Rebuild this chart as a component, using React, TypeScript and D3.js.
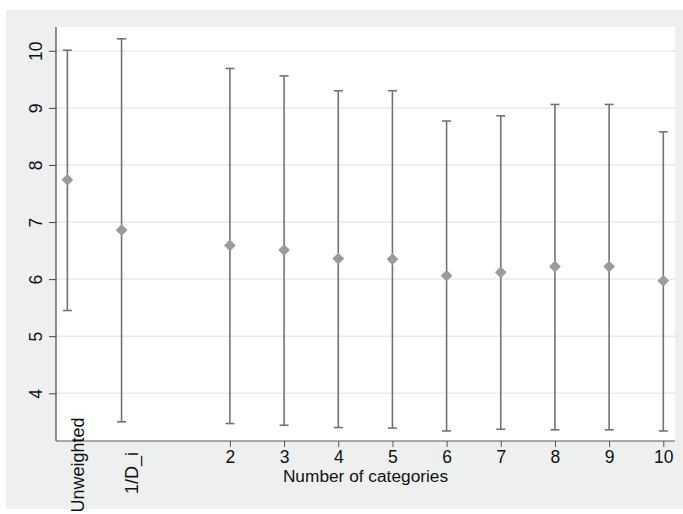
import React, { useEffect, useRef } from "react";
import * as d3 from "d3";

// Estimates (mean with lower/upper bounds) for each weighting scheme
const labels = ["Unweighted", "1/D_i", "2", "3", "4", "5", "6", "7", "8", "9", "10"];
const xValues = [-1, 0, 2, 3, 4, 5, 6, 7, 8, 9, 10];
const means = [7.74, 6.86, 6.59, 6.51, 6.36, 6.35, 6.06, 6.12, 6.22, 6.22, 5.97];
const upper = [10.01, 10.21, 9.69, 9.56, 9.3, 9.3, 8.77, 8.86, 9.06, 9.06, 8.58];
const lower = [5.45, 3.5, 3.47, 3.44, 3.4, 3.39, 3.34, 3.37, 3.36, 3.36, 3.34];
const yTicks = [4, 5, 6, 7, 8, 9, 10];
const numericTicks = [2, 3, 4, 5, 6, 7, 8, 9, 10];
const xTitle = "Number of categories";

const FONT = "'Liberation Sans', Arial, Helvetica, sans-serif";

const App = () => {
  const ref = useRef<SVGSVGElement | null>(null);

  useEffect(() => {
    const W = 683;
    const plot = { left: 56, right: 675, top: 27, bottom: 441 };
    // vertical centre of the rotated text labels (Stata places them unevenly)
    const textLabelY = [465, 473];

    const svg = d3.select(ref.current);
    svg.selectAll("*").remove();

    // outer background
    svg.append("rect").attr("x", 6).attr("y", 10).attr("width", W - 6).attr("height", 499).attr("fill", "#eef0f0");
    svg
      .append("rect")
      .attr("x", plot.left)
      .attr("y", plot.top)
      .attr("width", plot.right - plot.left)
      .attr("height", plot.bottom - plot.top)
      .attr("fill", "#ffffff");

    const x = d3.scaleLinear().domain([-1.21, 10.216]).range([plot.left, plot.right]);
    const y = d3.scaleLinear().domain([3.164, 10.417]).range([plot.bottom, plot.top]);

    // gridlines
    svg
      .append("g")
      .selectAll("line")
      .data(yTicks)
      .enter()
      .append("line")
      .attr("x1", plot.left)
      .attr("x2", plot.right)
      .attr("y1", (d) => y(d))
      .attr("y2", (d) => y(d))
      .attr("stroke", "#e9eaea")
      .attr("stroke-width", 1.5);

    // y axis
    const yAxis = svg
      .append("g")
      .attr("transform", `translate(${plot.left},0)`)
      .call(d3.axisLeft(y).tickValues(yTicks).tickSize(7).tickFormat(d3.format("d")));
    yAxis.select(".domain").attr("stroke", "#222").attr("d", `M0,${plot.top}V${plot.bottom}`);
    yAxis.selectAll(".tick line").attr("stroke", "#444");
    yAxis
      .selectAll(".tick text")
      .attr("x", 0)
      .attr("y", 0)
      .attr("dy", 0)
      .attr("transform", "translate(-14.5,0) rotate(-90)")
      .attr("text-anchor", "middle")
      .attr("fill", "#111")
      .style("font-family", FONT)
      .style("font-size", "17.5px");

    // x axis (numeric categories)
    const xAxis = svg
      .append("g")
      .attr("transform", `translate(0,${plot.bottom})`)
      .call(d3.axisBottom(x).tickValues(numericTicks).tickSize(6).tickFormat(d3.format("d")));
    xAxis.select(".domain").attr("stroke", "#555").attr("d", `M${plot.left},0H${plot.right}`);
    xAxis.selectAll(".tick line").attr("stroke", "#555");
    xAxis
      .selectAll(".tick text")
      .attr("y", 22)
      .attr("dy", 0)
      .attr("fill", "#111")
      .style("font-family", FONT)
      .style("font-size", "17.5px");

    // vertical labels for the two non-numeric entries
    svg
      .append("g")
      .selectAll("text")
      .data(labels.slice(0, 2))
      .enter()
      .append("text")
      .attr("transform", (d, i) => `translate(${x(xValues[i]) + 16.5},${textLabelY[i]}) rotate(-90)`)
      .attr("text-anchor", "middle")
      .attr("fill", "#111")
      .style("font-family", FONT)
      .style("font-size", "18px")
      .text((d) => d);

    // axis title
    svg
      .append("text")
      .attr("x", (plot.left + plot.right) / 2)
      .attr("y", 481.5)
      .attr("text-anchor", "middle")
      .attr("fill", "#111")
      .style("font-family", FONT)
      .style("font-size", "17.3px")
      .text(xTitle);

    // error bars
    const bars = svg.append("g");
    const idx = d3.range(labels.length);
    bars
      .selectAll("line.bar")
      .data(idx)
      .enter()
      .append("line")
      .attr("x1", (i) => x(xValues[i]))
      .attr("x2", (i) => x(xValues[i]))
      .attr("y1", (i) => y(lower[i]))
      .attr("y2", (i) => y(upper[i]))
      .attr("stroke", "#737373")
      .attr("stroke-width", 1.6);
    [lower, upper].forEach((arr) => {
      bars
        .append("g")
        .selectAll("line")
        .data(idx)
        .enter()
        .append("line")
        .attr("x1", (i) => x(xValues[i]) - 4.5)
        .attr("x2", (i) => x(xValues[i]) + 4.5)
        .attr("y1", (i) => y(arr[i]))
        .attr("y2", (i) => y(arr[i]))
        .attr("stroke", "#737373")
        .attr("stroke-width", 1.6);
    });

    // mean markers
    const diamond = d3.symbol().type(d3.symbolDiamond2).size(88);
    svg
      .append("g")
      .selectAll("path")
      .data(idx)
      .enter()
      .append("path")
      .attr("d", diamond)
      .attr("transform", (i) => `translate(${x(xValues[i])},${y(means[i])})`)
      .attr("fill", "#9b9b9b");
  }, []);

  return (
    <svg
      ref={ref}
      width={683}
      height={514}
      style={{ position: "absolute", left: 0, top: 0, background: "#ffffff" }}
    />
  );
};

export default App;
